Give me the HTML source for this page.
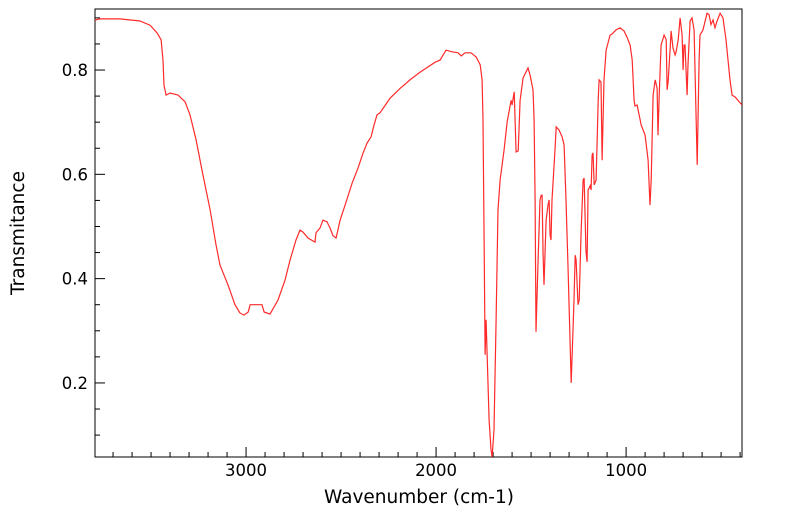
<!DOCTYPE html>
<html><head><meta charset="utf-8">
<style>
body{margin:0;background:#fff;}
svg{display:block;font-family:"DejaVu Sans","Liberation Sans",sans-serif;}
</style></head>
<body>
<svg id="chart" width="799" height="516" viewBox="0 0 799 516">
  <rect x="95" y="9" width="647" height="448" fill="none" stroke="#000" stroke-width="1"/>
  <g id="xticks"></g>
  <g id="yticks"></g>
  <g id="series"></g>
  <text x="419" y="503" font-size="18.5" text-anchor="middle">Wavenumber (cm-1)</text>
  <text transform="translate(24,233) rotate(-90)" font-size="18.5" text-anchor="middle">Transmitance</text>
</svg>
<script>
const wavenumbers=[3795,3768,3663,3558,3505,3468,3447,3437,3432,3421,3400,3358,3321,3295,3263,3232,3189,3158,3137,3095,3058,3032,3011,2989,2979,2916,2905,2874,2832,2795,2768,2737,2716,2700,2674,2637,2632,2611,2595,2574,2558,2542,2526,2505,2479,2442,2411,2384,2363,2342,2326,2311,2295,2274,2242,2189,2137,2084,2042,2005,1979,1963,1947,1916,1884,1868,1847,1816,1789,1768,1758,1753,1747,1742,1737,1732,1721,1711,1705,1695,1684,1674,1663,1642,1626,1605,1600,1589,1579,1568,1558,1542,1516,1505,1490,1484,1479,1474,1463,1453,1447,1442,1437,1432,1421,1411,1405,1400,1395,1390,1374,1368,1353,1337,1326,1316,1305,1289,1274,1268,1263,1253,1247,1237,1226,1221,1211,1205,1200,1189,1184,1179,1174,1168,1158,1147,1142,1132,1126,1116,1105,1084,1074,1053,1032,1011,995,979,968,958,953,942,926,921,900,884,874,868,858,847,837,832,826,816,800,789,784,779,768,763,753,742,737,726,716,705,700,695,690,679,674,663,653,642,626,616,611,595,574,563,553,542,532,521,505,490,474,453,442,426,390];
const transmittance=[0.896,0.898,0.898,0.894,0.886,0.871,0.858,0.819,0.771,0.752,0.756,0.752,0.739,0.714,0.666,0.608,0.532,0.465,0.426,0.388,0.350,0.334,0.330,0.336,0.350,0.350,0.336,0.332,0.359,0.397,0.436,0.474,0.493,0.489,0.478,0.470,0.488,0.497,0.512,0.509,0.497,0.482,0.478,0.512,0.541,0.583,0.612,0.641,0.660,0.672,0.695,0.714,0.718,0.729,0.746,0.765,0.781,0.796,0.806,0.815,0.819,0.829,0.838,0.835,0.833,0.827,0.833,0.833,0.825,0.810,0.781,0.704,0.455,0.254,0.321,0.263,0.129,0.072,0.058,0.110,0.321,0.532,0.589,0.647,0.700,0.742,0.733,0.758,0.643,0.645,0.742,0.785,0.804,0.790,0.762,0.704,0.551,0.298,0.436,0.551,0.560,0.560,0.445,0.388,0.512,0.541,0.551,0.484,0.474,0.551,0.647,0.691,0.685,0.672,0.656,0.551,0.417,0.200,0.359,0.445,0.436,0.350,0.359,0.489,0.589,0.593,0.451,0.432,0.570,0.578,0.570,0.637,0.641,0.580,0.589,0.742,0.781,0.777,0.627,0.781,0.838,0.867,0.869,0.877,0.881,0.875,0.863,0.848,0.819,0.742,0.731,0.733,0.704,0.695,0.675,0.627,0.541,0.589,0.752,0.781,0.765,0.675,0.752,0.848,0.867,0.858,0.762,0.777,0.842,0.875,0.842,0.829,0.835,0.858,0.900,0.867,0.800,0.848,0.848,0.752,0.810,0.894,0.900,0.877,0.618,0.819,0.867,0.877,0.909,0.906,0.887,0.896,0.881,0.894,0.909,0.900,0.858,0.781,0.752,0.748,0.733];
const xMajorTicks=[3000,2000,1000];
const yMajorTicks=[0.2,0.4,0.6,0.8];

const X0=95,X1=742,Y0=9,Y1=457;
const W_LEFT=3795,W_RIGHT=390,T_TOP=0.917,T_BOT=0.058;
function xs(w){return X0+(W_LEFT-w)/(W_LEFT-W_RIGHT)*(X1-X0);}
function ys(t){return Y0+(T_TOP-t)/(T_TOP-T_BOT)*(Y1-Y0);}
const NS="http://www.w3.org/2000/svg";
function mk(tag,attrs,parent){const e=document.createElementNS(NS,tag);for(const k in attrs)e.setAttribute(k,attrs[k]);parent.appendChild(e);return e;}

const xg=document.getElementById('xticks');
for(let w=3700;w>=400;w-=100){
  const major=w%1000===0;
  const x=xs(w);
  const l=mk('line',{x1:x,x2:x,y1:Y1,y2:Y1-(major?10:5),stroke:'#000','stroke-width':1},xg);
  
  
}
xMajorTicks.forEach(w=>{
  const t=mk('text',{x:xs(w),y:Y1+19,'font-size':16.5,'text-anchor':'middle'},xg);
  t.textContent=String(w);
  
  
});
const yg=document.getElementById('yticks');
for(let i=2;i<=18;i++){
  const t=i*0.05;
  if(t<T_BOT||t>T_TOP)continue;
  const major=i%4===0;
  const y=ys(t);
  const l=mk('line',{x1:X0,x2:X0+(major?10:5),y1:y,y2:y,stroke:'#000','stroke-width':1},yg);
  
  
}
yMajorTicks.forEach(v=>{
  const t=mk('text',{x:X0-7,y:ys(v)+6,'font-size':16.5,'text-anchor':'end'},yg);
  t.textContent=v.toFixed(1);
  
  
});
const sg=document.getElementById('series');
const clip=mk('clipPath',{id:'pc'},sg);
mk('rect',{x:X0,y:Y0,width:X1-X0,height:Y1-Y0},clip);
const d=wavenumbers.map((w,i)=>(i?'L':'M')+xs(w).toFixed(1)+','+ys(transmittance[i]).toFixed(1)).join('');
const p=mk('path',{d:d,fill:'none',stroke:'#ff2a2a','stroke-width':1.2,'clip-path':'url(#pc)'},sg);


</script>
</body></html>
